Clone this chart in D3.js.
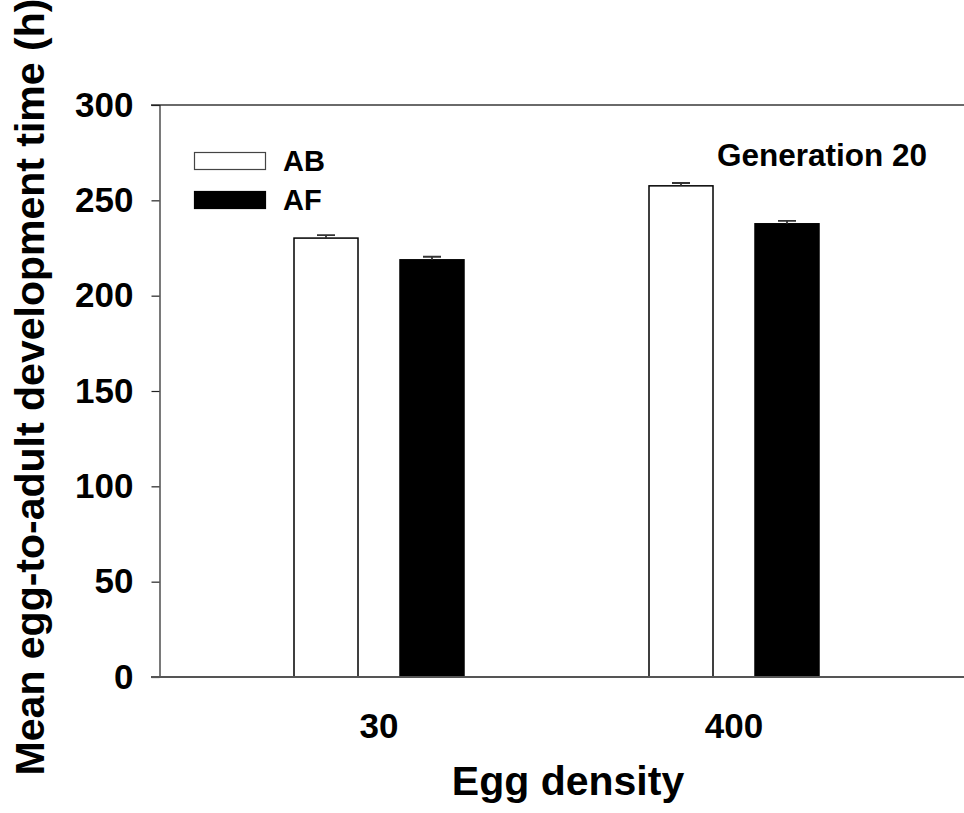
<!DOCTYPE html>
<html><head><meta charset="utf-8">
<script src="https://cdn.jsdelivr.net/npm/d3@7"></script>
<style>body{margin:0;background:#fff}svg{display:block}text{font-family:"Liberation Sans",Arial,sans-serif;font-weight:bold}</style>
</head><body>
<script>
const categories = ["30", "400"];
const series = ["AB", "AF"];
const valuesAB = [230.2, 257.6];
const valuesAF = [218.8, 237.7];
const errorsAB = [1.6, 1.5];
const errorsAF = [1.6, 1.5];
const yTicks = [0, 50, 100, 150, 200, 250, 300];

const W = 964, H = 813;
const svg = d3.select("body").append("svg").attr("width", W).attr("height", H);

const y = d3.scaleLinear().domain([0, 300]).range([677, 105]);
const x0 = d3.scaleBand().domain(categories).range([201.5, 911.5]).padding(0);
const x1 = d3.scaleBand().domain(series).range([71.5, 283.5]).padding(0);
const barW = 64;

const data = categories.map((c, i) => ({
  cat: c,
  vals: [{s: "AB", v: valuesAB[i], e: errorsAB[i]}, {s: "AF", v: valuesAF[i], e: errorsAF[i]}]
}));

// frame lines
svg.append("line").attr("x1", 151).attr("x2", W).attr("y1", y(300)).attr("y2", y(300))
  .attr("stroke", "#6a6a6a").attr("stroke-width", 2);

// bars
const g = svg.selectAll("g.grp").data(data).join("g").attr("class", "grp")
  .attr("transform", d => `translate(${x0(d.cat)},0)`);
g.selectAll("rect").data(d => d.vals).join("rect")
  .attr("x", d => x1(d.s) + x1.bandwidth() / 2 - barW / 2)
  .attr("width", barW)
  .attr("y", d => y(d.v))
  .attr("height", d => y(0) - y(d.v))
  .attr("fill", d => d.s === "AB" ? "#fff" : "#000")
  .attr("stroke", "#000").attr("stroke-width", 1.5);
// error bars
g.selectAll("path.err").data(d => d.vals).join("path").attr("class", "err")
  .attr("d", d => {
    const cx = x1(d.s) + x1.bandwidth() / 2;
    return `M${cx},${y(d.v)}V${y(d.v + d.e)}M${cx - 9},${y(d.v + d.e)}H${cx + 9}`;
  })
  .attr("stroke", "#333").attr("stroke-width", 1.8).attr("fill", "none");

// y axis
const yAxis = svg.append("g").attr("transform", "translate(159.5,0)")
  .call(d3.axisLeft(y).tickValues(yTicks).tickSize(8).tickPadding(18));
yAxis.select(".domain").attr("stroke", "#222").attr("stroke-width", 1.2);
yAxis.selectAll(".tick line").attr("stroke", "#222").attr("stroke-width", 1.2);
yAxis.selectAll(".tick text").attr("font-size", 35).attr("font-weight", "bold")
  .attr("font-family", "Liberation Sans, Arial, sans-serif").attr("fill", "#000");

// x axis
const xAxis = svg.append("g").attr("transform", `translate(0,${y(0)})`)
  .call(d3.axisBottom(x0).tickSize(0).tickPadding(36));
xAxis.select(".domain").attr("stroke", "#555").attr("stroke-width", 2).attr("d", `M151,0H${W}`);
xAxis.selectAll(".tick text").attr("font-size", 35).attr("font-weight", "bold")
  .attr("font-family", "Liberation Sans, Arial, sans-serif").attr("fill", "#000");

// titles
svg.append("text").attr("x", 568).attr("y", 795).attr("text-anchor", "middle")
  .attr("font-size", 41).text("Egg density");
svg.append("text").attr("transform", "translate(44,387) rotate(-90)").attr("text-anchor", "middle")
  .attr("font-size", 41).text("Mean egg-to-adult development time (h)");

// legend
const leg = svg.append("g");
series.forEach((s, i) => {
  leg.append("rect").attr("x", 194.5).attr("y", 152.5 + i * 39).attr("width", 71).attr("height", 17)
    .attr("fill", s === "AB" ? "#fff" : "#000").attr("stroke", s === "AB" ? "#444" : "#000").attr("stroke-width", 1.2);
  leg.append("text").attr("x", 283).attr("y", 171 + i * 39).attr("font-size", 29).text(s);
});
svg.append("text").attr("x", 717).attr("y", 166).attr("font-size", 31.5).text("Generation 20");
</script>
</body></html>
